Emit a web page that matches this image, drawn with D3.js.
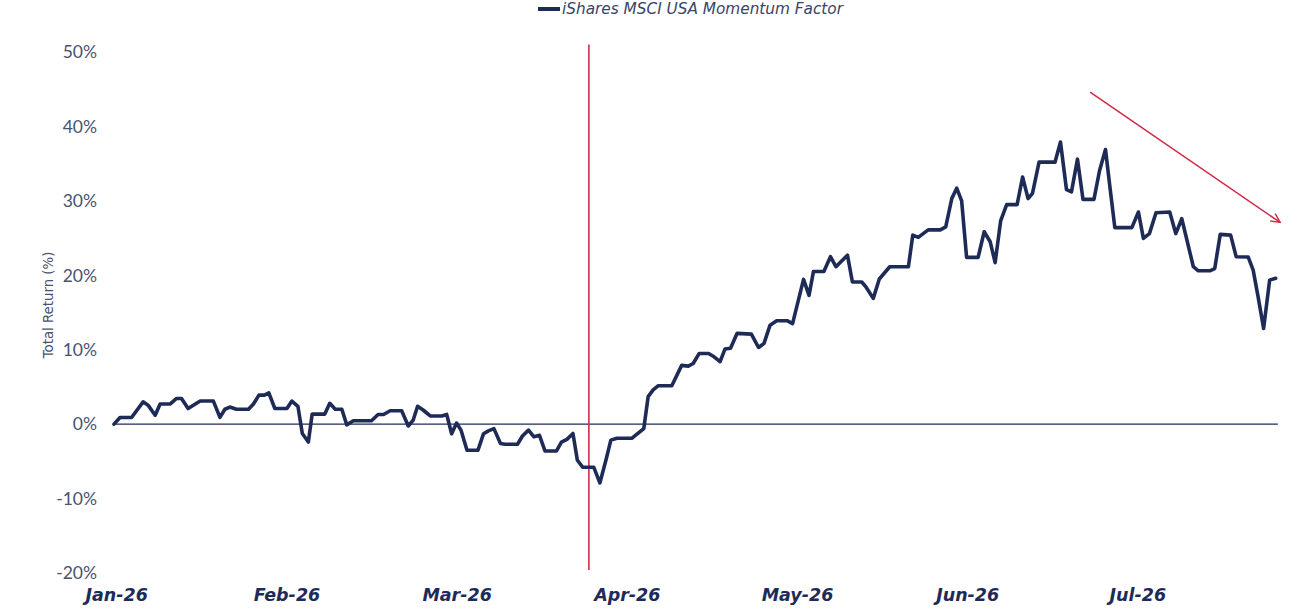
<!DOCTYPE html>
<html>
<head>
<meta charset="utf-8">
<script src="https://cdn.jsdelivr.net/npm/d3@7/dist/d3.min.js"></script>
<style>
  html, body { margin: 0; padding: 0; background: #ffffff; }
  svg { display: block; }
</style>
</head>
<body>
<svg id="chart" width="1311" height="613"></svg>
<script>
// ---- data ----
const seriesName = "iShares MSCI USA Momentum Factor";
const monthLabels = ["Jan-26", "Feb-26", "Mar-26", "Apr-26", "May-26", "Jun-26", "Jul-26"];
const monthStartDay = [0, 31, 62, 93, 124, 155, 186];
const yTicks = [-20, -10, 0, 10, 20, 30, 40, 50];
// day position (days since start) of each vertex of the line
const dayPos = [
  0, 1.1, 3.2, 5.3, 6.2, 7.5, 8.4, 10.2, 11.4, 12.3, 13.5, 15.7, 18.1, 19.3, 20.2, 21.1, 22.3, 24.5, 25.4, 26.4,
  27.4, 28.2, 29.3, 31.5, 32.4, 33.5, 34.3, 35.4, 36.1, 38.4, 39.3, 40.3, 41.5, 42.4, 43.6, 46.9, 48.1, 49.1, 50.3, 52.4,
  53.6, 54.5, 55.3, 56.3, 57.6, 59.7, 60.6, 61.5, 62.4, 63.2, 64.3, 66.3, 67.3, 68.2, 69.2, 70.4, 71.2, 73.5, 74.4, 75.5,
  76.5, 77.5, 78.5, 80.6, 81.5, 82.5, 83.6, 84.4, 85.4, 87.4, 88.5, 89.6, 90.5, 91.6, 94.3, 96.5, 97.3, 98.2, 99.1, 101.6,
  103.4, 104.6, 105.5, 106.6, 108.3, 109.3, 110.4, 111.3, 112.3, 113.5, 116.1, 117.4, 118.4, 119.5, 120.7, 122.6, 123.6, 125.6, 126.6, 127.4,
  129.3, 130.5, 131.5, 133.6, 134.5, 136.2, 137.0, 138.3, 139.4, 141.3, 144.7, 145.5, 146.5, 148.3, 150.5, 151.5, 152.6, 153.5, 154.4, 155.3,
  157.4, 158.5, 159.6, 160.5, 161.5, 162.6, 164.5, 165.5, 166.5, 167.3, 168.5, 171.4, 172.4, 173.5, 174.4, 175.5, 176.5, 178.5, 179.5, 180.6,
  181.4, 182.3, 185.4, 186.6, 187.5, 188.6, 189.8, 192.3, 193.4, 194.5, 196.6, 197.5, 199.6, 200.5, 201.5, 203.4, 204.4, 206.6, 207.5, 208.4,
  209.4, 210.5, 211.6
];
// total return (%) at each vertex
const totalReturn = [
  0, 0.9, 0.9, 3.0, 2.55, 1.2, 2.7, 2.7, 3.45, 3.45, 2.1, 3.1, 3.1, 0.9, 2.0, 2.3, 2.0, 2.0, 2.7, 3.9,
  3.9, 4.2, 2.1, 2.1, 3.1, 2.4, -1.25, -2.4, 1.35, 1.35, 2.8, 2.0, 2.0, -0.1, 0.45, 0.45, 1.3, 1.3, 1.8, 1.8,
  -0.25, 0.55, 2.4, 1.9, 1.1, 1.1, 1.3, -1.3, 0.15, -0.8, -3.5, -3.5, -1.3, -0.9, -0.6, -2.6, -2.7, -2.7, -1.6, -0.8,
  -1.7, -1.5, -3.6, -3.6, -2.4, -2.05, -1.25, -4.85, -5.8, -5.8, -7.9, -4.85, -2.15, -1.9, -1.9, -0.6, 3.7, 4.6, 5.15, 5.15,
  7.9, 7.8, 8.15, 9.5, 9.5, 9.05, 8.4, 10.1, 10.2, 12.2, 12.1, 10.3, 10.85, 13.3, 13.9, 13.9, 13.5, 19.45, 17.3, 20.5,
  20.5, 22.5, 21.15, 22.7, 19.1, 19.1, 18.4, 16.9, 19.5, 21.15, 21.15, 25.4, 25.1, 26.1, 26.1, 26.5, 30.3, 31.7, 30.0, 22.4,
  22.4, 25.85, 24.5, 21.7, 27.3, 29.5, 29.5, 33.2, 30.3, 31.0, 35.2, 35.2, 37.9, 31.5, 31.2, 35.6, 30.2, 30.2, 34.0, 36.9,
  31.9, 26.4, 26.4, 28.5, 24.95, 25.6, 28.4, 28.5, 25.6, 27.6, 21.15, 20.6, 20.6, 20.9, 25.5, 25.4, 22.5, 22.45, 20.7, 17.1,
  12.85, 19.35, 19.6
];
// annotations
const markerDay = 86.5;                  // red vertical marker
const trendArrowFrom = [177.8, 44.6];    // [day, %]
const trendArrowTo = [212.4, 27.1];

// ---- drawing ----
const navy = "#1f2b57";
const red = "#d02c48";
const labelGrey = "#4a5270";
const svg = d3.select("#chart");

const x = d3.scaleLinear().domain([0, 212]).range([114, 114 + 212 * 5.49]);
const y = d3.scaleLinear().domain([-20, 50]).range([573, 52]);

const data = dayPos.map((d, i) => ({ d, v: totalReturn[i] }));

// y tick labels
svg.append("g")
  .selectAll("text")
  .data(yTicks)
  .join("text")
  .attr("x", 97)
  .attr("y", v => y(v))
  .attr("dy", "0.36em")
  .attr("text-anchor", "end")
  .attr("font-family", "Lato, 'Open Sans', sans-serif")
  .attr("font-size", 17.5)
  .attr("fill", labelGrey)
  .text(v => v + "%");

// y axis title
svg.append("text")
  .attr("transform", `translate(53,305) rotate(-90)`)
  .attr("text-anchor", "middle")
  .attr("font-family", "'DejaVu Sans', sans-serif")
  .attr("font-size", 13.3)
  .attr("fill", labelGrey)
  .text("Total Return (%)");

// x labels
svg.append("g")
  .selectAll("text")
  .data(monthStartDay)
  .join("text")
  .attr("x", d => x(d + 0.5))
  .attr("y", 601)
  .attr("text-anchor", "middle")
  .attr("font-family", "'DejaVu Sans', sans-serif")
  .attr("font-size", 17.5)
  .attr("font-weight", "bold")
  .attr("font-style", "italic")
  .attr("fill", navy)
  .text((d, i) => monthLabels[i]);

// zero line
svg.append("line")
  .attr("x1", x(-0.2)).attr("x2", x(212))
  .attr("y1", y(0)).attr("y2", y(0))
  .attr("stroke", navy)
  .attr("stroke-width", 1.4);

// red vertical marker
svg.append("line")
  .attr("x1", x(markerDay)).attr("x2", x(markerDay))
  .attr("y1", y(51)).attr("y2", y(-19.6))
  .attr("stroke", red)
  .attr("stroke-width", 1.6);

// series line
svg.append("path")
  .datum(data)
  .attr("fill", "none")
  .attr("stroke", navy)
  .attr("stroke-width", 3.6)
  .attr("stroke-linejoin", "round")
  .attr("stroke-linecap", "round")
  .attr("d", d3.line().x(p => x(p.d)).y(p => y(p.v)));

// trend arrow
svg.append("defs").append("marker")
  .attr("id", "arrow")
  .attr("viewBox", "0 0 10 10")
  .attr("refX", 9).attr("refY", 5)
  .attr("markerWidth", 7).attr("markerHeight", 7)
  .attr("markerUnits", "strokeWidth")
  .attr("orient", "auto")
  .append("path")
  .attr("d", "M1,1 L9,5 L1,9")
  .attr("fill", "none")
  .attr("stroke", red)
  .attr("stroke-width", 1.3);

svg.append("line")
  .attr("x1", x(trendArrowFrom[0])).attr("y1", y(trendArrowFrom[1]))
  .attr("x2", x(trendArrowTo[0])).attr("y2", y(trendArrowTo[1]))
  .attr("stroke", red)
  .attr("stroke-width", 1.6)
  .attr("marker-end", "url(#arrow)");

// legend
const legend = svg.append("g");
legend.append("line")
  .attr("x1", 538).attr("x2", 560)
  .attr("y1", 9).attr("y2", 9)
  .attr("stroke", navy)
  .attr("stroke-width", 4);
legend.append("text")
  .attr("x", 562)
  .attr("y", 9)
  .attr("dy", "0.35em")
  .attr("font-family", "'DejaVu Sans', sans-serif")
  .attr("font-size", 15.3)
  .attr("font-style", "italic")
  .attr("fill", "#3a4468")
  .text(seriesName);
</script>
</body>
</html>
